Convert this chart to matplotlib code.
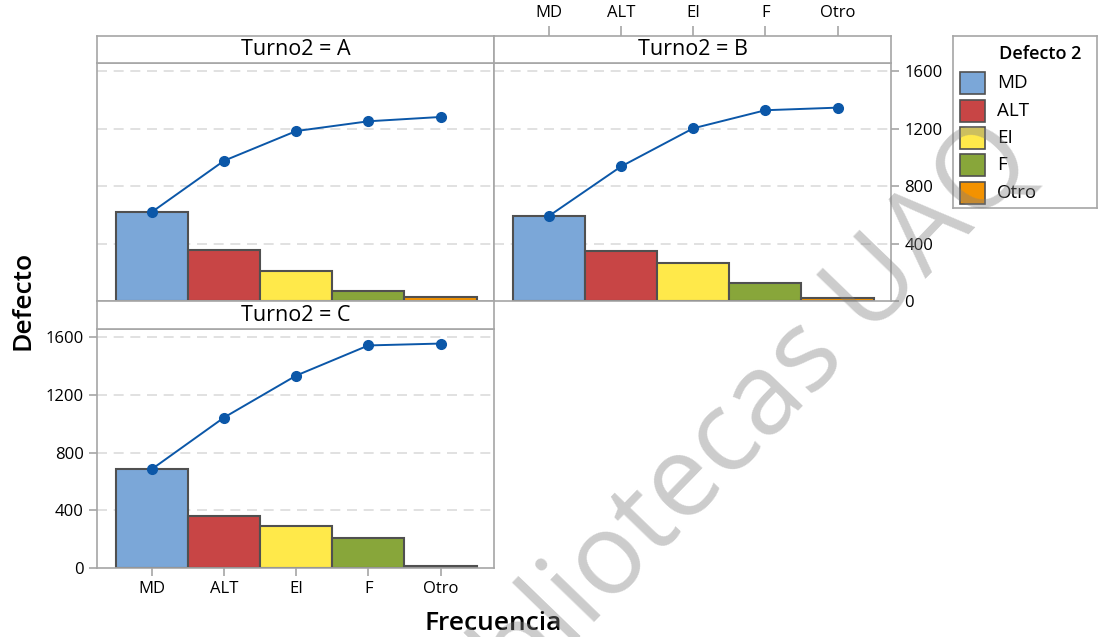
import matplotlib
matplotlib.use('Agg')
import matplotlib.pyplot as plt
from matplotlib.patches import Rectangle
import numpy as np

plt.rcParams['font.family'] = ['Open Sans', 'DejaVu Sans']

W, H = 1106, 637

categorias = ['MD', 'ALT', 'EI', 'F', 'Otro']
colores = ['#7ba7d8', '#c84545', '#ffe94a', '#88a63a', '#f39200']
turno_a = [620, 357, 207, 68, 30]
turno_b = [592, 345, 266, 126, 18]
turno_c = [686, 358, 291, 209, 13]
y_ticks = [0, 400, 800, 1200, 1600]

BORDE = '#a6a6a6'
LINEA = '#0b57a8'


def caja(x0, y0, x1, y1):
    # pixel box (top-left origin) -> figure fraction rect
    return [x0 / W, 1 - y1 / H, (x1 - x0) / W, (y1 - y0) / H]


def panel(rect, valores):
    ax = fig.add_axes(rect)
    x = np.arange(len(categorias))
    ax.bar(x, valores, width=1.0, color=colores, edgecolor='#505050',
           linewidth=1.5, zorder=2)
    ax.plot(x, np.cumsum(valores), color=LINEA, lw=1.4, marker='o',
            markersize=7, zorder=3)
    ax.set_xlim(-0.76, 4.74)
    ax.set_ylim(0, 1658)
    for v in y_ticks[1:]:
        ax.axhline(v, color='#dcdcdc', lw=1.2, dashes=(6, 4), zorder=1)
    for s in ax.spines.values():
        s.set_color(BORDE)
        s.set_linewidth(1.2)
    ax.set_xticks([])
    ax.set_yticks([])
    ax.tick_params(colors=BORDE, labelcolor='black', labelsize=12,
                   length=6, width=1.2)
    return ax


def tira(rect, texto):
    ax = fig.add_axes(rect)
    ax.set_xlim(-0.76, 4.74)
    ax.set_xticks([])
    ax.set_yticks([])
    for s in ax.spines.values():
        s.set_color(BORDE)
        s.set_linewidth(1.2)
    ax.text(0.5, 0.5, texto, transform=ax.transAxes, ha='center',
            va='center', fontsize=15.5)
    ax.tick_params(colors=BORDE, labelcolor='black', labelsize=12,
                   length=7, width=1.2)
    return ax


fig = plt.figure(figsize=(W / 100, H / 100), dpi=100)

ax_a = panel(caja(97, 63, 494, 301), turno_a)
ax_b = panel(caja(494, 63, 891, 301), turno_b)
ax_c = panel(caja(97, 329, 494, 568), turno_c)

tira(caja(97, 36, 494, 63), 'Turno2 = A')
tira_b = tira(caja(494, 36, 891, 63), 'Turno2 = B')
tira(caja(97, 301, 494, 329), 'Turno2 = C')

# ejes de B: categorias arriba, escala a la derecha
tira_b.xaxis.tick_top()
tira_b.set_xticks(range(len(categorias)))
tira_b.set_xticklabels(categorias)
ax_b.yaxis.tick_right()
ax_b.set_yticks(y_ticks)

# ejes de C: categorias abajo, escala a la izquierda
ax_c.set_xticks(range(len(categorias)))
ax_c.set_xticklabels(categorias)
ax_c.set_yticks(y_ticks)

fig.text(23 / W, 1 - 300 / H, 'Defecto', rotation=90, ha='center',
         va='center', fontsize=19, fontweight='semibold')
fig.text(493 / W, 1 - 623 / H, 'Frecuencia', ha='center', va='center',
         fontsize=19, fontweight='semibold')

# leyenda
ley = fig.add_axes(caja(953, 36, 1097, 208))
ley.set_xlim(953, 1097)
ley.set_ylim(208, 36)
ley.set_xticks([])
ley.set_yticks([])
for s in ley.spines.values():
    s.set_color(BORDE)
    s.set_linewidth(1.2)
ley.text(1040, 54, 'Defecto 2', ha='center', va='center', fontsize=13,
         fontweight='semibold')
for i, (cat, col) in enumerate(zip(categorias, colores)):
    yc = 83 + i * 27.5
    ley.add_patch(Rectangle((960, yc - 11), 25, 22, facecolor=col,
                            edgecolor='#505050', lw=1.2))
    ley.text(997, yc, cat, ha='left', va='center', fontsize=13.5)

fig.text(722 / W, 1 - 448 / H, 'Bibliotecas UAQ', rotation=46,
         rotation_mode='anchor', ha='center', va='center', fontsize=82,
         color='#808080', alpha=0.4, zorder=10)

fig.savefig('out.png', dpi=100, facecolor='white')
